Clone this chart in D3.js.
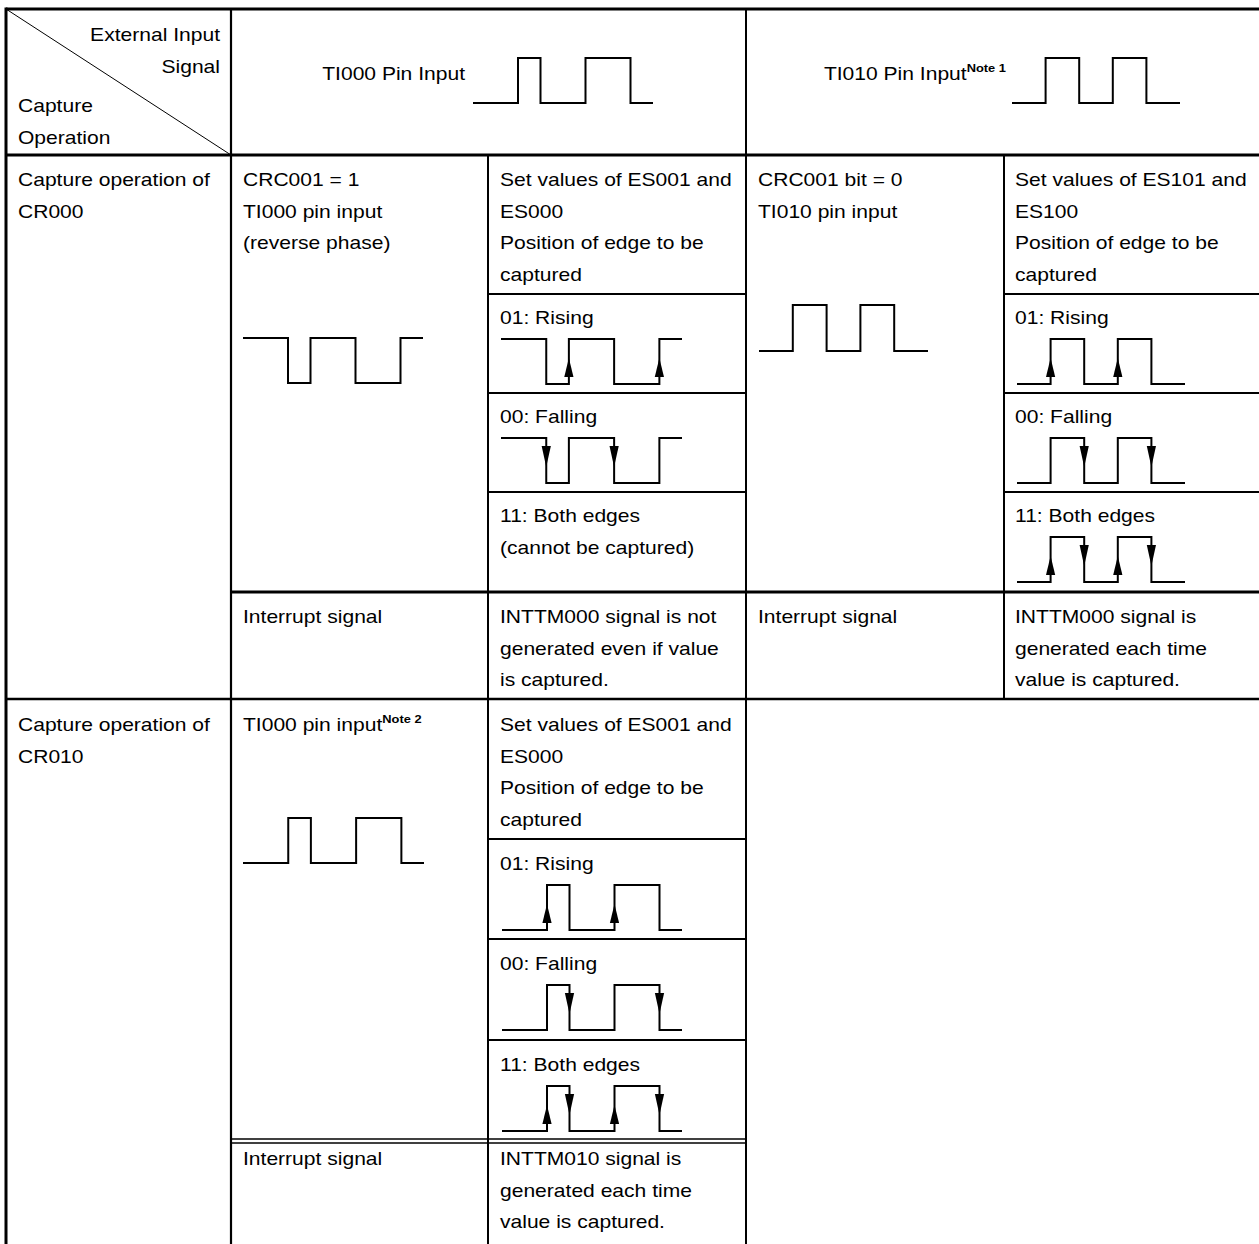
<!DOCTYPE html>
<html><head><meta charset="utf-8">
<script src="https://cdn.jsdelivr.net/npm/d3@7"></script>
<style>html,body{margin:0;padding:0;background:#fff;} svg{display:block;}</style>
</head><body>
<script>
// ---------------- DATA ----------------
const cornerTopLabels = ["External Input", "Signal"];
const cornerBottomLabels = ["Capture", "Operation"];
const headerLabels = ["TI000 Pin Input", "TI010 Pin Input"];
const headerNotes = ["", "Note 1"];
const operationLabels = [["Capture operation of", "CR000"], ["Capture operation of", "CR010"]];
const cr000SourceA = ["CRC001 = 1", "TI000 pin input", "(reverse phase)"];
const cr000SourceB = ["CRC001 bit = 0", "TI010 pin input"];
const cr010Source = "TI000 pin input";
const cr010Note = "Note 2";
const setValuesA = ["Set values of ES001 and", "ES000", "Position of edge to be", "captured"];
const setValuesB = ["Set values of ES101 and", "ES100", "Position of edge to be", "captured"];
const edgeLabels = ["01: Rising", "00: Falling", "11: Both edges"];
const edgeModes = ["rising", "falling", "both"];
const cannotCapture = "(cannot be captured)";
const interruptLabel = "Interrupt signal";
const interruptCR000A = ["INTTM000 signal is not", "generated even if value", "is captured."];
const interruptCR000B = ["INTTM000 signal is", "generated each time", "value is captured."];
const interruptCR010 = ["INTTM010 signal is", "generated each time", "value is captured."];
// waveforms: segment durations (time units) and logic levels per segment
const durationsTI000 = [2, 1, 2, 2, 1];
const durationsTI010 = [1, 1, 1, 1, 1];
const levelsNormal = [0, 1, 0, 1, 0];
const levelsReverse = [1, 0, 1, 0, 1];

// ---------------- LAYOUT ----------------
const W = 1259, H = 1244;
const X = {L: 6, c1: 231, c2: 488, c3: 746, c4: 1004, R: 1262};
const Y = {top: 9, head: 155, a1: 294, a2: 393, a3: 492, a4: 592, b0: 699,
           b1: 839, b2: 939, b3: 1040, b4: 1141, bottom: 1250};
const FS = 18, SX = 1.17, LH = 31.7, FONT = "'Liberation Sans', Arial, Helvetica, sans-serif";
const PAD = 12, BASE = 31;

const svg = d3.select("body").append("svg").attr("width", W).attr("height", H)
  .style("font-family", FONT);

// ---- rules ----
const rules = [
  [X.L, Y.top, X.R, Y.top, 3],
  [X.L, Y.head, X.R, Y.head, 3],
  [X.c1, Y.a4, X.R, Y.a4, 3],
  [X.L, Y.b0, X.R, Y.b0, 2.5],
  [X.L, Y.top - 1.5, X.L, Y.bottom, 3],
  [X.c1, Y.top, X.c1, Y.bottom, 2.2],
  [X.c3, Y.top, X.c3, Y.bottom, 2],
  [X.c2, Y.head, X.c2, Y.bottom, 2],
  [X.c4, Y.head, X.c4, Y.b0, 2],
  [X.c2, Y.a1, X.c3, Y.a1, 2], [X.c2, Y.a2, X.c3, Y.a2, 2], [X.c2, Y.a3, X.c3, Y.a3, 2],
  [X.c4, Y.a1, X.R, Y.a1, 2], [X.c4, Y.a2, X.R, Y.a2, 2], [X.c4, Y.a3, X.R, Y.a3, 2],
  [X.c2, Y.b1, X.c3, Y.b1, 2], [X.c2, Y.b2, X.c3, Y.b2, 2], [X.c2, Y.b3, X.c3, Y.b3, 2],
  [X.c1, Y.b4 - 2, X.c3, Y.b4 - 2, 1.3], [X.c1, Y.b4 + 2, X.c3, Y.b4 + 2, 1.3],
  [X.L, Y.top, X.c1, Y.head, 1]
];
svg.append("g").selectAll("line").data(rules).join("line")
  .attr("x1", d => d[0]).attr("y1", d => d[1]).attr("x2", d => d[2]).attr("y2", d => d[3])
  .attr("stroke", "#000").attr("stroke-width", d => d[4]);

// ---- text helper ----
const tg = svg.append("g").attr("fill", "#000").attr("font-size", FS);
function block(x, yTop, lines, anchor) {
  lines.forEach((s, i) => {
    tg.append("text")
      .attr("transform", `translate(${x},${yTop + BASE + i * LH}) scale(${SX},1)`)
      .attr("text-anchor", anchor || "start")
      .text(s);
  });
}
function noteText(x, y, main, note, anchor) {
  const t = tg.append("text")
    .attr("transform", `translate(${x},${y}) scale(${SX},1)`)
    .attr("text-anchor", anchor || "start");
  t.append("tspan").text(main);
  if (note) t.append("tspan").attr("font-size", 11).attr("font-weight", "bold").attr("dy", -8).text(note);
}

// corner
cornerTopLabels.forEach((s, i) => {
  tg.append("text").attr("transform", `translate(${X.c1 - 11},${41 + i * LH}) scale(${SX},1)`)
    .attr("text-anchor", "end").text(s);
});
cornerBottomLabels.forEach((s, i) => {
  tg.append("text").attr("transform", `translate(${X.L + 12},${112 + i * LH}) scale(${SX},1)`)
    .text(s);
});
// headers
noteText(465, 80, headerLabels[0], headerNotes[0], "end");
noteText(1006, 80, headerLabels[1], headerNotes[1], "end");

// row CR000
block(X.L + PAD, Y.head, operationLabels[0]);
block(X.c1 + PAD, Y.head, cr000SourceA);
block(X.c2 + PAD, Y.head, setValuesA);
block(X.c2 + PAD, Y.a1 - 1, [edgeLabels[0]]);
block(X.c2 + PAD, Y.a2 - 1, [edgeLabels[1]]);
block(X.c2 + PAD, Y.a3 - 1, [edgeLabels[2], cannotCapture]);
block(X.c1 + PAD, Y.a4, [interruptLabel]);
block(X.c2 + PAD, Y.a4, interruptCR000A);
block(X.c3 + PAD, Y.head, cr000SourceB);
block(X.c4 + 11, Y.head, setValuesB);
block(X.c4 + 11, Y.a1 - 1, [edgeLabels[0]]);
block(X.c4 + 11, Y.a2 - 1, [edgeLabels[1]]);
block(X.c4 + 11, Y.a3 - 1, [edgeLabels[2]]);
block(X.c3 + PAD, Y.a4, [interruptLabel]);
block(X.c4 + 11, Y.a4, interruptCR000B);

// row CR010
block(X.L + PAD, Y.b0 + 1, operationLabels[1]);
noteText(X.c1 + PAD, Y.b0 + 1 + BASE, cr010Source, cr010Note);
block(X.c2 + PAD, Y.b0 + 1, setValuesA);
block(X.c2 + PAD, Y.b1, [edgeLabels[0]]);
block(X.c2 + PAD, Y.b2, [edgeLabels[1]]);
block(X.c2 + PAD, Y.b3, [edgeLabels[2]]);
block(X.c1 + PAD, Y.b4 - 7, [interruptLabel]);
block(X.c2 + PAD, Y.b4 - 7, interruptCR010);

// ---- waveforms ----
const wg = svg.append("g");
const lineGen = d3.line();
function wave(x0, x1, yHi, yLo, durations, levels, mode) {
  const total = d3.sum(durations);
  const xs = d3.scaleLinear().domain([0, total]).range([x0, x1]);
  const ys = d3.scaleLinear().domain([0, 1]).range([yLo, yHi]);
  const pts = [];
  const edges = [];
  let t = 0;
  levels.forEach((lv, i) => {
    if (i > 0 && levels[i - 1] !== lv) edges.push({t, rising: lv > levels[i - 1]});
    pts.push([xs(t), ys(lv)]);
    t += durations[i];
    pts.push([xs(t), ys(lv)]);
  });
  wg.append("path").attr("d", lineGen(pts)).attr("fill", "none")
    .attr("stroke", "#000").attr("stroke-width", 2).attr("stroke-linejoin", "miter");
  if (!mode) return;
  edges.filter(e => mode === "both" || (mode === "rising") === e.rising).forEach(e => {
    const x = xs(e.t), hw = 4.6;
    const tri = e.rising
      ? [[x, yLo - 26], [x - hw, yLo - 7], [x + hw, yLo - 7]]
      : [[x - hw, yHi + 8], [x + hw, yHi + 8], [x, yHi + 29]];
    wg.append("path").attr("d", lineGen(tri) + "Z").attr("fill", "#000");
  });
}
// header
wave(473, 653, 58, 103, durationsTI000, levelsNormal);
wave(1012, 1180, 58, 103, durationsTI010, levelsNormal);
// CR000
wave(243, 423, 338, 383, durationsTI000, levelsReverse);
const subTops = [Y.a1, Y.a2, Y.a3];
[0, 1].forEach(i => wave(501, 682, subTops[i] + 45, subTops[i] + 90, durationsTI000, levelsReverse, edgeModes[i]));
wave(759, 928, 305, 351, durationsTI010, levelsNormal);
[0, 1, 2].forEach(i => wave(1017, 1185, subTops[i] + 45, subTops[i] + 90, durationsTI010, levelsNormal, edgeModes[i]));
// CR010
wave(243, 424, 818, 863, durationsTI000, levelsNormal);
const subTopsB = [Y.b1, Y.b2, Y.b3];
[0, 1, 2].forEach(i => wave(502, 682, subTopsB[i] + 46, subTopsB[i] + 91, durationsTI000, levelsNormal, edgeModes[i]));
</script>
</body></html>
